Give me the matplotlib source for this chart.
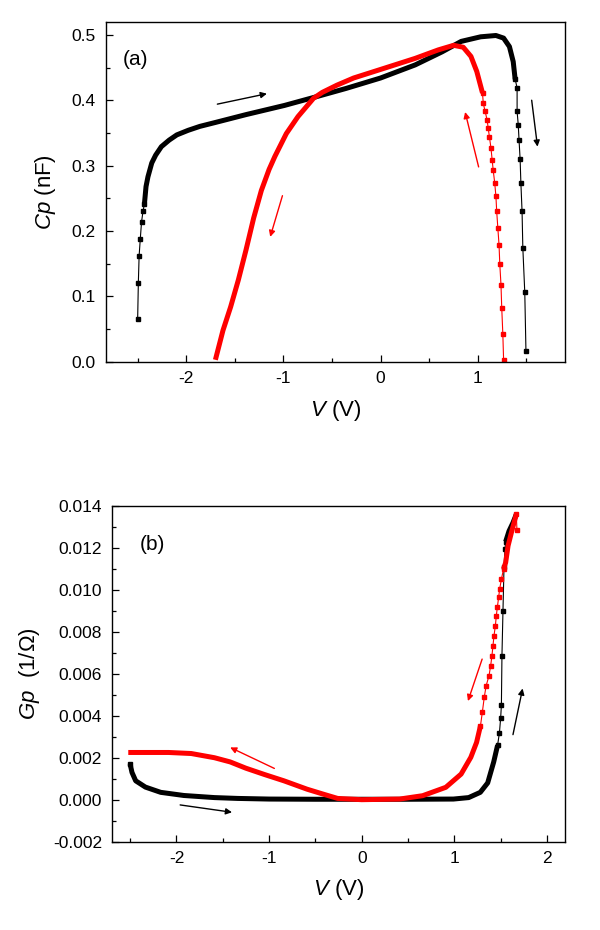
import matplotlib
matplotlib.use("Agg")
import matplotlib.pyplot as plt
from matplotlib.ticker import MultipleLocator, FormatStrFormatter

plt.rcParams['font.family'] = ['Liberation Sans', 'DejaVu Sans']
plt.rcParams['mathtext.fontset'] = 'custom'
plt.rcParams['mathtext.it'] = 'Liberation Sans:italic'
plt.rcParams['mathtext.rm'] = 'Liberation Sans'
plt.rcParams['axes.unicode_minus'] = False

# ---- panel (a): Cp vs V ----
# forward sweep (black)
cp_fwd_sparse_l_v = [-2.50, -2.493, -2.485, -2.473, -2.46, -2.445, -2.43]
cp_fwd_sparse_l_c = [0.066, 0.121, 0.162, 0.188, 0.214, 0.230, 0.242]
cp_fwd_dense_v = [-2.43, -2.414, -2.394, -2.355, -2.315, -2.256, -2.176, -2.097, -1.98, -1.86,
                  -1.70, -1.385, -0.99, -0.67, -0.356, 0.0, 0.356, 0.633, 0.83, 1.03, 1.187,
                  1.266, 1.326, 1.365, 1.385]
cp_fwd_dense_c = [0.242, 0.268, 0.283, 0.304, 0.316, 0.329, 0.339, 0.347, 0.354, 0.360,
                  0.366, 0.378, 0.392, 0.405, 0.418, 0.434, 0.454, 0.474, 0.490, 0.497, 0.499,
                  0.495, 0.482, 0.459, 0.432]
cp_fwd_sparse_r_v = [1.385, 1.405, 1.405, 1.417, 1.425, 1.436, 1.444, 1.456, 1.464, 1.484, 1.496]
cp_fwd_sparse_r_c = [0.432, 0.419, 0.383, 0.362, 0.339, 0.310, 0.273, 0.230, 0.174, 0.106, 0.017]
# reverse sweep (red)
cp_rev_sparse_v = [1.266, 1.258, 1.247, 1.239, 1.227, 1.219, 1.207, 1.195, 1.187, 1.175,
                   1.159, 1.148, 1.136, 1.12, 1.108, 1.096, 1.076, 1.057, 1.049]
cp_rev_sparse_c = [0.003, 0.043, 0.082, 0.118, 0.149, 0.179, 0.204, 0.230, 0.253, 0.273,
                   0.293, 0.309, 0.327, 0.344, 0.357, 0.370, 0.383, 0.395, 0.411]
cp_rev_dense_v = [1.049, 0.99, 0.93, 0.851, 0.752, 0.594, 0.356, 0.04, -0.277, -0.45, -0.6,
                  -0.69, -0.77, -0.85, -0.97, -1.088, -1.148, -1.227, -1.306, -1.385, -1.464,
                  -1.543, -1.622, -1.70]
cp_rev_dense_c = [0.411, 0.444, 0.467, 0.481, 0.484, 0.477, 0.464, 0.449, 0.434, 0.423, 0.412,
                  0.403, 0.389, 0.375, 0.349, 0.314, 0.294, 0.262, 0.220, 0.171, 0.125,
                  0.084, 0.048, 0.003]

# ---- panel (b): Gp vs V ----
gp_fwd_dense1_v = [-2.50, -2.48, -2.44, -2.335, -2.17, -1.92, -1.59, -1.34, -1.0, -0.5, 0.0,
                   0.5, 0.99, 1.155, 1.28, 1.36, 1.425, 1.467]
gp_fwd_dense1_g = [0.0017, 0.0013, 0.0009, 0.0006, 0.00035, 0.0002, 0.0001, 0.00006, 0.00003,
                   0.00002, 0.00002, 0.00002, 0.00003, 0.0001, 0.00035, 0.0008, 0.0018, 0.0026]
gp_fwd_sparse_v = [1.467, 1.487, 1.50, 1.508, 1.514, 1.525, 1.536, 1.547, 1.554]
gp_fwd_sparse_g = [0.0026, 0.0032, 0.0039, 0.0045, 0.00686, 0.0090, 0.01107, 0.01194, 0.0123]
gp_fwd_dense2_v = [1.554, 1.59, 1.633, 1.669]
gp_fwd_dense2_g = [0.0123, 0.0128, 0.0132, 0.0136]

gp_rev_dense1_v = [1.669, 1.62, 1.58, 1.554, 1.531]
gp_rev_dense1_g = [0.0136, 0.0128, 0.0121, 0.0113, 0.01099]
gp_rev_sparse_v = [1.531, 1.508, 1.489, 1.478, 1.464, 1.453, 1.443, 1.428, 1.417, 1.406,
                   1.392, 1.374, 1.343, 1.323, 1.302, 1.282]
gp_rev_sparse_g = [0.01099, 0.01051, 0.01003, 0.00964, 0.00916, 0.00876, 0.00829, 0.00781,
                   0.00733, 0.00686, 0.00638, 0.0059, 0.00543, 0.00488, 0.00416, 0.00352]
gp_rev_dense2_v = [1.282, 1.24, 1.178, 1.073, 0.908, 0.658, 0.409, 0.0, -0.26, -0.42, -0.59,
                   -0.84, -1.05, -1.25, -1.42, -1.59, -1.84, -2.085, -2.25, -2.52]
gp_rev_dense2_g = [0.00352, 0.00273, 0.00202, 0.00122, 0.00059, 0.00019, 0.00003, 0.0, 0.00006,
                   0.00027, 0.0005, 0.0009, 0.0012, 0.0015, 0.0018, 0.0020, 0.0022, 0.00225,
                   0.00225, 0.00225]
gp_rev_stray_v = [1.669, 1.676]
gp_rev_stray_g = [0.0136, 0.01284]

RED = '#ff0000'
DENSE_LW = 3.6


def sparse(ax, v, y, c):
    ax.plot(v, y, '-', color=c, lw=0.8, marker='s', ms=2.4, mec=c, mfc=c)


def dense(ax, v, y, c):
    ax.plot(v, y, '-', color=c, lw=DENSE_LW, solid_capstyle='butt', solid_joinstyle='round')


def arrow(ax, start, end, c):
    ax.annotate('', xy=end, xytext=start,
                arrowprops=dict(arrowstyle='-|>', color=c, lw=1.0, mutation_scale=9,
                                shrinkA=0, shrinkB=0))


def style(ax):
    ax.tick_params(which='both', direction='in', top=False, right=False,
                   labelsize=12.5)
    ax.tick_params(which='major', length=5, width=0.9, pad=7)
    ax.tick_params(which='minor', length=3, width=0.9)
    for s in ax.spines.values():
        s.set_linewidth(1.0)


fig = plt.figure(figsize=(6, 9.3), dpi=100)

# panel (a)
ax1 = fig.add_axes([0.176, 0.611, 0.766, 0.3656])
dense(ax1, cp_fwd_dense_v, cp_fwd_dense_c, 'black')
sparse(ax1, cp_fwd_sparse_l_v, cp_fwd_sparse_l_c, 'black')
sparse(ax1, cp_fwd_sparse_r_v, cp_fwd_sparse_r_c, 'black')
dense(ax1, cp_rev_dense_v, cp_rev_dense_c, RED)
sparse(ax1, cp_rev_sparse_v, cp_rev_sparse_c, RED)
arrow(ax1, (-1.68, 0.394), (-1.17, 0.410), 'black')
arrow(ax1, (1.555, 0.400), (1.615, 0.329), 'black')
arrow(ax1, (1.009, 0.298), (0.87, 0.382), RED)
arrow(ax1, (-1.01, 0.254), (-1.136, 0.191), RED)
ax1.set_xlim(-2.83, 1.90)
ax1.set_ylim(0, 0.52)
ax1.xaxis.set_major_locator(MultipleLocator(1))
ax1.xaxis.set_minor_locator(MultipleLocator(0.5))
ax1.yaxis.set_major_locator(MultipleLocator(0.1))
ax1.yaxis.set_minor_locator(MultipleLocator(0.05))
ax1.xaxis.set_major_formatter(FormatStrFormatter('%d'))
ax1.yaxis.set_major_formatter(FormatStrFormatter('%.1f'))
style(ax1)
ax1.set_xlabel('$V$ (V)', fontsize=16, labelpad=8)
ax1.set_ylabel('$Cp$ (nF)', fontsize=16, labelpad=10)
ax1.text(0.038, 0.89, '(a)', transform=ax1.transAxes, fontsize=15, ha='left', va='center')

# panel (b)
ax2 = fig.add_axes([0.186, 0.095, 0.7565, 0.361])
dense(ax2, gp_fwd_dense1_v, gp_fwd_dense1_g, 'black')
sparse(ax2, gp_fwd_sparse_v, gp_fwd_sparse_g, 'black')
dense(ax2, gp_fwd_dense2_v, gp_fwd_dense2_g, 'black')
ax2.plot(gp_fwd_dense1_v[:1], gp_fwd_dense1_g[:1], 's', color='black', ms=2.4)
dense(ax2, gp_rev_dense2_v, gp_rev_dense2_g, RED)
sparse(ax2, gp_rev_sparse_v, gp_rev_sparse_g, RED)
dense(ax2, gp_rev_dense1_v, gp_rev_dense1_g, RED)
sparse(ax2, gp_rev_stray_v, gp_rev_stray_g, RED)
arrow(ax2, (-0.943, 0.00149), (-1.42, 0.00249), RED)
arrow(ax2, (-1.96, -0.00025), (-1.40, -0.0006), 'black')
arrow(ax2, (1.30, 0.0067), (1.147, 0.0047), RED)
arrow(ax2, (1.633, 0.0031), (1.737, 0.0053), 'black')
ax2.set_xlim(-2.70, 2.20)
ax2.set_ylim(-0.002, 0.014)
ax2.xaxis.set_major_locator(MultipleLocator(1))
ax2.xaxis.set_minor_locator(MultipleLocator(0.5))
ax2.yaxis.set_major_locator(MultipleLocator(0.002))
ax2.yaxis.set_minor_locator(MultipleLocator(0.001))
ax2.xaxis.set_major_formatter(FormatStrFormatter('%d'))
ax2.yaxis.set_major_formatter(FormatStrFormatter('%.3f'))
style(ax2)
ax2.set_xlabel('$V$ (V)', fontsize=16, labelpad=8)
ax2.set_ylabel('$Gp$  (1/Ω)', fontsize=16, labelpad=8)
ax2.text(0.063, 0.884, '(b)', transform=ax2.transAxes, fontsize=15, ha='left', va='center')

fig.savefig('out.png', dpi=100)
